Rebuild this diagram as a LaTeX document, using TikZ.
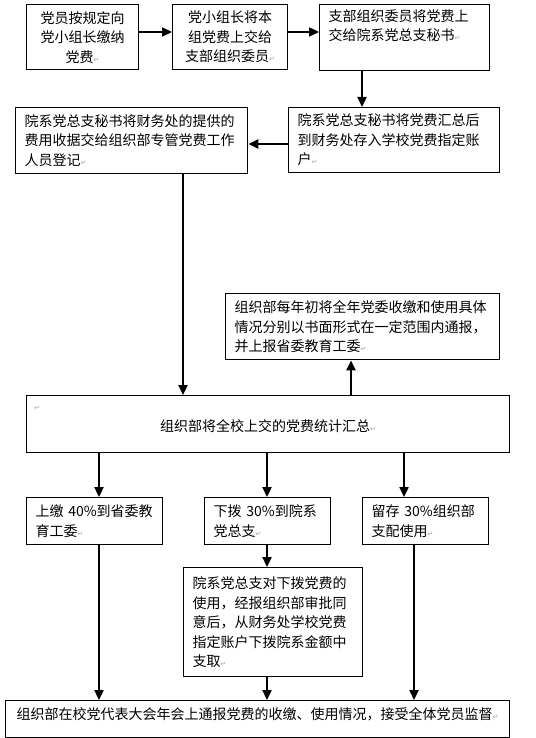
\documentclass[tikz,border=0pt]{standalone}
\usepackage{fontspec}
\setmainfont{Noto Sans CJK SC}
\newfontfamily\dejavu{DejaVu Sans}
\usetikzlibrary{arrows.meta}
\newcommand\pmk{{\dejavu\fontsize{7}{7}\selectfont\color{gray!70}↵}}
\tikzset{
  box/.style={draw, line width=1.3pt, inner xsep=9pt, inner ysep=0pt, anchor=north west,
    font=\fontsize{14}{19.5}\selectfont, align=left},
  arr/.style={line width=2.3pt, -{Triangle[length=10pt,width=9pt]}},
}
\begin{document}
\begin{tikzpicture}[x=1pt,y=-1pt]
\useasboundingbox[fill=white] (0,0) rectangle (535,738);
% row 1
\node[box, align=center, text width=94pt, minimum height=65pt] (b1) at (26,4)
  {党员按规定向\\党小组长缴纳\\党费\pmk};
\node[box, align=center, text width=97pt, minimum height=65pt] (b2) at (172,4)
  {党小组长将本\\组党费上交给\\支部组织委员\pmk};
\node[box, text width=152pt, minimum height=66pt] (b3) at (319,4)
  {支部组织委员将党费上\\交给院系党总支秘书\pmk\\\strut};
% row 2
\node[box, text width=214pt, minimum height=66pt] (A) at (15,107)
  {院系党总支秘书将财务处的提供的\\费用收据交给组织部专管党费工作\\人员登记\pmk};
\node[box, text width=193pt, minimum height=65pt] (B) at (288,107)
  {院系党总支秘书将党费汇总后\\到财务处存入学校党费指定账\\户\pmk};
% report box
\node[box, text width=256pt, minimum height=66pt] (C) at (225,293)
  {组织部每年初将全年党委收缴和使用具体\\情况分别以书面形式在一定范围内通报，\\并上报省委教育工委\pmk};
% summary
\node[draw, line width=1.3pt, anchor=north west, inner sep=0pt, minimum width=483pt, minimum height=57pt,
  font=\fontsize{14}{19.5}\selectfont, text height=18pt, text depth=3pt] (D) at (26,395)
  {组织部将全校上交的党费统计汇总\pmk};
\node[inner sep=0pt] (Dmk) at (37,408) {\pmk};
% three branches
\node[box, text width=118pt, minimum height=47pt] (E1) at (26,497)
  {上缴 40\%到省委教\\育工委\pmk};
\node[box, text width=108pt, minimum height=47pt] (E2) at (204,497)
  {下拨 30\%到院系\\党总支\pmk};
\node[box, text width=108pt, minimum height=47pt] (E3) at (362,497)
  {留存 30\%组织部\\支配使用\pmk};
\node[box, text width=161pt, minimum height=109pt] (F) at (183,567)
  {院系党总支对下拨党费的\\使用，经报组织部审批同\\意后，从财务处学校党费\\指定账户下拨院系金额中\\支取\pmk};
% final
\node[draw, line width=1.3pt, anchor=north west, inner sep=0pt, minimum width=504pt, minimum height=37pt,
  font=\fontsize{14}{19.5}\selectfont, text height=12pt, text depth=11pt] (G) at (5,700)
  {组织部在校党代表大会年会上通报党费的收缴、使用情况，接受全体党员监督\pmk};
% helper coordinates
\coordinate (y32) at (0,32);
\coordinate (y144) at (0,144);
\coordinate (x362) at (362,0);
\coordinate (x183) at (183,0);
\coordinate (x351) at (351,0);
\coordinate (x99) at (99,0);
\coordinate (x267) at (267,0);
\coordinate (x404) at (404,0);
\coordinate (x414) at (414,0);
% connectors
\draw[arr] (b1.east |- y32) -- (b2.west |- y32);
\draw[arr] (b2.east |- y32) -- (b3.west |- y32);
\draw[arr] (b3.south -| x362) -- (B.north -| x362);
\draw[arr] (B.west |- y144) -- (A.east |- y144);
\draw[arr] (A.south -| x183) -- (D.north -| x183);
\draw[arr] (D.north -| x351) -- (C.south -| x351);
\draw[arr] (D.south -| x99) -- (E1.north -| x99);
\draw[arr] (D.south -| x267) -- (E2.north -| x267);
\draw[arr] (D.south -| x404) -- (E3.north -| x404);
\draw[arr] (E2.south -| x267) -- (F.north -| x267);
\draw[arr] (E1.south -| x99) -- (G.north -| x99);
\draw[arr] (F.south -| x267) -- (G.north -| x267);
\draw[arr] (E3.south -| x414) -- (G.north -| x414);
\end{tikzpicture}
\end{document}
